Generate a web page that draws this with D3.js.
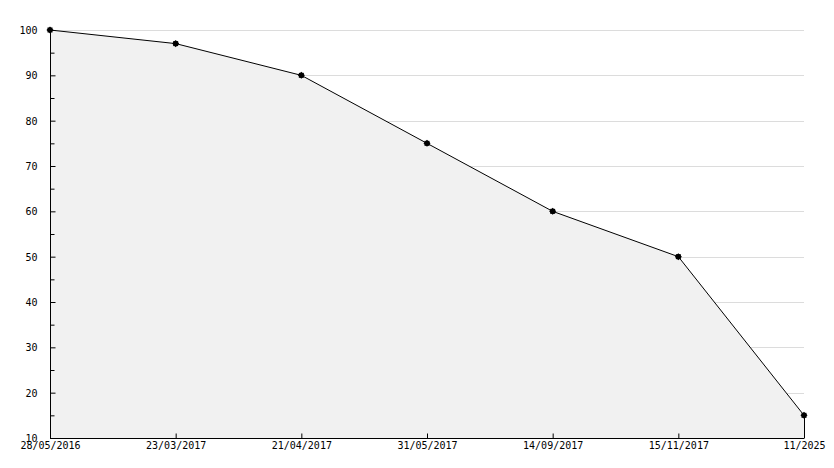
<!DOCTYPE html>
<html>
<head>
<meta charset="utf-8">
<script src="https://cdn.jsdelivr.net/npm/d3@7"></script>
<style>
  body { margin: 0; background: #fff; }
  text { font-family: "DejaVu Sans Mono", monospace; font-size: 10px; fill: #000; }
</style>
</head>
<body>
<svg id="chart"></svg>
<script>
// data
const dates = ["28/05/2016", "23/03/2017", "21/04/2017", "31/05/2017", "14/09/2017", "15/11/2017", "11/2025"];
const values = [100, 97, 90, 75, 60, 50, 15];
const yTicks = [10, 20, 30, 40, 50, 60, 70, 80, 90, 100];
const yMinorTicks = [15, 25, 35, 45, 55, 65, 75, 85, 95];

// set the margin
const margin = {top: 30, right: 30, bottom: 30, left: 50};
const width = 834 - margin.left - margin.right;
const height = 468 - margin.top - margin.bottom;

// set the ranges
const x = d3.scalePoint().domain(dates).range([0, width]);
const y = d3.scaleLinear().domain([10, 100]).range([height, 0]);

const data = dates.map((d, i) => ({x: d, y: values[i]}));

const svg = d3.select("#chart")
    .attr("width", 834)
    .attr("height", 468)
  .append("g")
    .attr("transform", "translate(" + margin.left + "," + margin.top + ")");

// gridlines
svg.append("g")
    .selectAll("line")
    .data(yTicks.filter(t => t > 10))
    .enter().append("line")
      .attr("x1", 0).attr("x2", width)
      .attr("y1", d => Math.round(y(d)) + 0.5)
      .attr("y2", d => Math.round(y(d)) + 0.5)
      .attr("stroke", "#dcdcdc");

// area
const area = d3.area()
    .x(d => x(d.x))
    .y0(height)
    .y1(d => y(d.y));

svg.append("path")
    .datum(data)
    .attr("d", area)
    .attr("fill", "#f1f1f1");

// right edge of the area
svg.append("line")
    .attr("x1", x(dates[dates.length - 1]) + 0.5)
    .attr("x2", x(dates[dates.length - 1]) + 0.5)
    .attr("y1", y(values[values.length - 1]))
    .attr("y2", height)
    .attr("stroke", "#000");

// line
svg.append("path")
    .datum(data)
    .attr("d", d3.line().x(d => x(d.x)).y(d => y(d.y)))
    .attr("fill", "none")
    .attr("stroke", "#000")
    .attr("stroke-width", 1);

// y axis
const yAxis = svg.append("g")
    .attr("transform", "translate(0.5,0)")
    .call(d3.axisLeft(y).tickValues(yTicks).tickSize(-5).tickPadding(13));
yAxis.select(".domain").attr("d", "M0," + height + "V0");
yAxis.selectAll(".tick text").attr("dy", "0.35em");

svg.append("g")
    .attr("transform", "translate(0.5,0)")
    .call(d3.axisLeft(y).tickValues(yMinorTicks).tickSize(-4).tickFormat(""))
    .select(".domain").remove();

// x axis
const xAxis = svg.append("g")
    .attr("transform", "translate(0," + (height + 0.5) + ")")
    .call(d3.axisBottom(x).tickSize(-5).tickPadding(7));
xAxis.select(".domain").attr("d", "M0,0H" + width);
xAxis.selectAll(".tick text").attr("dy", "0.35em");

// markers: square + diamond makes a small star
const markers = svg.selectAll(".marker")
    .data(data)
    .enter().append("g")
      .attr("class", "marker")
      .attr("transform", d => "translate(" + x(d.x) + "," + y(d.y) + ")");
markers.append("path")
    .attr("d", d3.symbol().type(d3.symbolSquare).size(25))
    .attr("fill", "#000");
markers.append("path")
    .attr("d", d3.symbol().type(d3.symbolSquare).size(25))
    .attr("transform", "rotate(45)")
    .attr("fill", "#000");
</script>
</body>
</html>
